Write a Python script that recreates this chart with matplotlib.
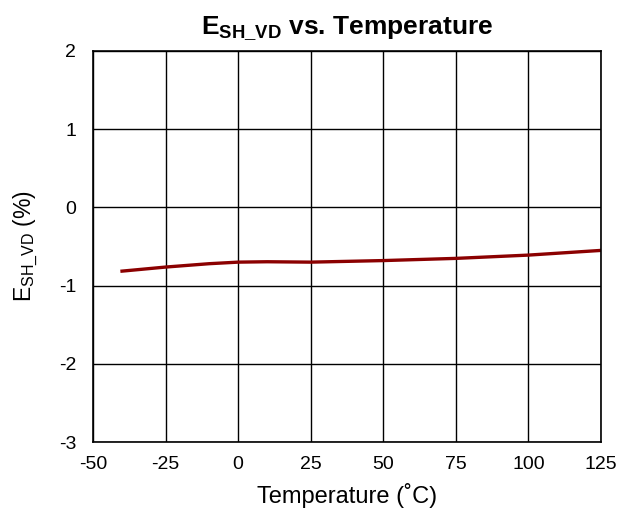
import matplotlib
matplotlib.use('Agg')
import matplotlib.pyplot as plt

plt.rcParams['font.family'] = ['Liberation Sans', 'DejaVu Sans']
plt.rcParams['mathtext.fontset'] = 'custom'
plt.rcParams['mathtext.rm'] = 'Liberation Sans'
plt.rcParams['mathtext.it'] = 'Liberation Sans'
plt.rcParams['mathtext.bf'] = 'Liberation Sans:bold'
plt.rcParams['axes.unicode_minus'] = False

# data
temperature = [-40, -25, -10, 0, 10, 25, 50, 75, 100, 125]
error_pct = [-0.815, -0.763, -0.72, -0.70, -0.695, -0.70, -0.68, -0.652, -0.61, -0.55]

x_ticks = [-50, -25, 0, 25, 50, 75, 100, 125]
y_ticks = [-3, -2, -1, 0, 1, 2]

fig = plt.figure(figsize=(6.37, 5.13), dpi=100)
ax = fig.add_axes([0.146, 0.1384, 0.7975, 0.7622])

ax.plot(temperature, error_pct, color='#8B0000', linewidth=2.4)

ax.set_xlim(-50, 125)
ax.set_ylim(-3, 2)
ax.set_xticks(x_ticks)
ax.set_yticks(y_ticks)
ax.tick_params(length=0, labelsize=14)
ax.tick_params(axis='x', pad=10)
ax.tick_params(axis='y', pad=12)
ax.grid(True, color='black', linewidth=1)
for s in ax.spines.values():
    s.set_linewidth(1.2)

ax.set_xlabel('Temperature (˚C)', fontsize=17, labelpad=7)
ax.set_ylabel(r'E$_{\mathregular{SH\_VD}}$ (%)', fontsize=16.5, labelpad=14)
ax.set_title(r'$\mathbf{E_{SH\_VD}}$ vs. Temperature', fontsize=19, fontweight='bold', pad=12)

fig.savefig('out.png', dpi=100)
